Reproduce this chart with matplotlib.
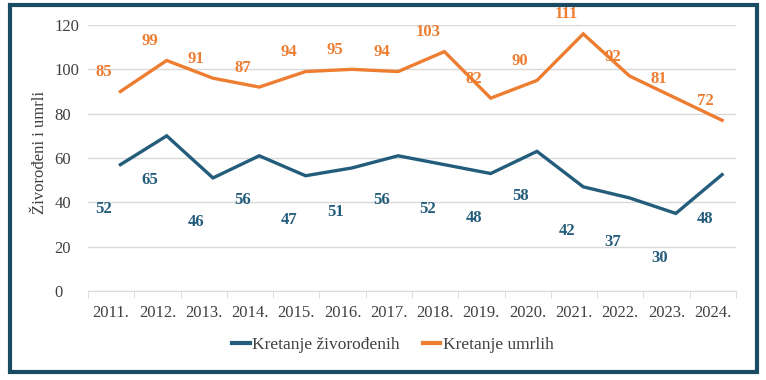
import numpy as np
import matplotlib
matplotlib.use("Agg")
import matplotlib.pyplot as plt
from matplotlib.patches import Rectangle

# Data

years = ['2011.', '2012.', '2013.', '2014.', '2015.', '2016.', '2017.',
         '2018.', '2019.', '2020.', '2021.', '2022.', '2023.', '2024.']

# line values as drawn
births_line = [57, 70, 51, 61, 52, 55.5, 61, 57, 53, 63, 47, 42, 35, 52.5]
deaths_line = [90, 104, 96, 92, 99, 100, 99, 108, 87, 95, 116, 97, 87, 77]

# printed data labels
births_labels = [52, 65, 46, 56, 47, 51, 56, 52, 48, 58, 42, 37, 30, 48]
deaths_labels = [85, 99, 91, 87, 94, 95, 94, 103, 82, 90, 111, 92, 81, 72]

blue = '#245D7B'
orange = '#ED7D31'
frame = '#1B4A63'

plt.rcParams['font.family'] = ['Liberation Serif', 'DejaVu Serif']

fig = plt.figure(figsize=(7.66, 3.80), dpi=100)
ax = fig.add_axes([0.1149, 0.2342, 0.8459, 0.70])

x = np.arange(len(years))
xl = x + 0.2   # lines sit a bit right of the category centres

ax.plot(xl, births_line, color=blue, lw=2.4, solid_joinstyle='miter',
        label='Kretanje živorođenih')
ax.plot(xl, deaths_line, color=orange, lw=2.4, solid_joinstyle='miter',
        label='Kretanje umrlih')

# Data labels
for xi, yi, lab in zip(xl, births_line, births_labels):
    ax.annotate(str(lab), (xi, yi), xytext=(-12, -32), textcoords='offset points',
                ha='center', va='center', color=blue, fontsize=12,
                fontweight='bold', annotation_clip=False)
for xi, yi, lab in zip(xl, deaths_line, deaths_labels):
    ax.annotate(str(lab), (xi, yi), xytext=(-12, 14), textcoords='offset points',
                ha='center', va='center', color=orange, fontsize=12,
                fontweight='bold', annotation_clip=False)

# Axes
ax.set_xlim(-0.5, len(years) - 0.5)
ax.set_ylim(0, 120)
ax.set_yticks(np.arange(0, 121, 20))
ax.tick_params(axis='y', length=0, pad=24, labelsize=12, colors='#404040')
for lab in ax.get_yticklabels():
    lab.set_horizontalalignment('left')

ax.set_xticks(x)
ax.set_xticklabels(years)
ax.set_xticks(np.arange(-0.5, len(years), 1), minor=True)
ax.tick_params(axis='x', which='major', length=0, pad=10, labelsize=12,
               colors='#404040')
ax.tick_params(axis='x', which='minor', length=5, color='#D9D9D9')

ax.grid(axis='y', color='#D9D9D9', lw=1)
ax.set_axisbelow(True)
for s in ['top', 'right', 'left']:
    ax.spines[s].set_visible(False)
ax.spines['bottom'].set_color('#D9D9D9')

ax.set_ylabel('Živorođeni i umrli', fontsize=12, color='#404040')
ax.yaxis.set_label_coords(-0.062, 0.52)

leg = fig.legend(loc='center', bbox_to_anchor=(0.513, 0.092), ncol=2, frameon=False,
                 fontsize=12.5, handlelength=1.0, handletextpad=0.15,
                 columnspacing=1.3)
for t in leg.get_texts():
    t.set_color('#404040')
for h in leg.legend_handles:
    h.set_linewidth(3)

# outer frame
fig.patches.append(Rectangle((0.0137, 0.021), 0.9752, 0.966, transform=fig.transFigure,
                             fill=False, edgecolor=frame, lw=3, zorder=10))

fig.savefig('out.png', dpi=100, facecolor='white')
